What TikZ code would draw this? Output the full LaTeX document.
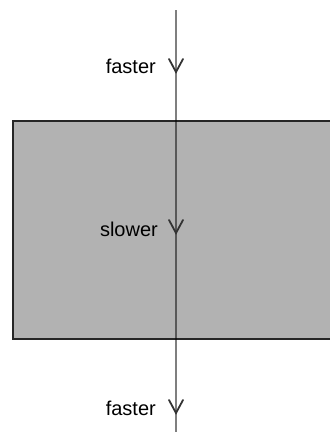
\documentclass[tikz,border=0pt]{standalone}
\usepackage{fontspec}
\setmainfont{Liberation Sans}
\begin{document}
\begin{tikzpicture}[x=1pt,y=-1pt,
  lbl/.style={anchor=base east,inner sep=0pt,font=\fontsize{20}{24}\selectfont,text=black},
  vee/.style={draw=black!80,line width=1.8pt,line cap=round,line join=miter},
  ray/.style={draw=black,opacity=0.5,line width=2.4pt}]
\useasboundingbox (0,0) rectangle (330,432);
\fill[fill={rgb,255:red,178;green,178;blue,178}] (13,121) rectangle (335,339);
\draw[line width=2.2pt,draw=black!85] (340,121) -- (13,121) -- (13,339) -- (340,339);
\coordinate (top) at (176,10);
\coordinate (bot) at (176,440);
\draw[ray] (top) -- (bot);
\node[lbl] (f1) at (156,73) {faster};
\node[lbl] (s1) at (158,236) {slower};
\node[lbl] (f2) at (156,415) {faster};
\foreach \t in {72,233,413}{
  \draw[vee] (169,\t-13) -- (176,\t) -- (183,\t-13);
}
\end{tikzpicture}
\end{document}
